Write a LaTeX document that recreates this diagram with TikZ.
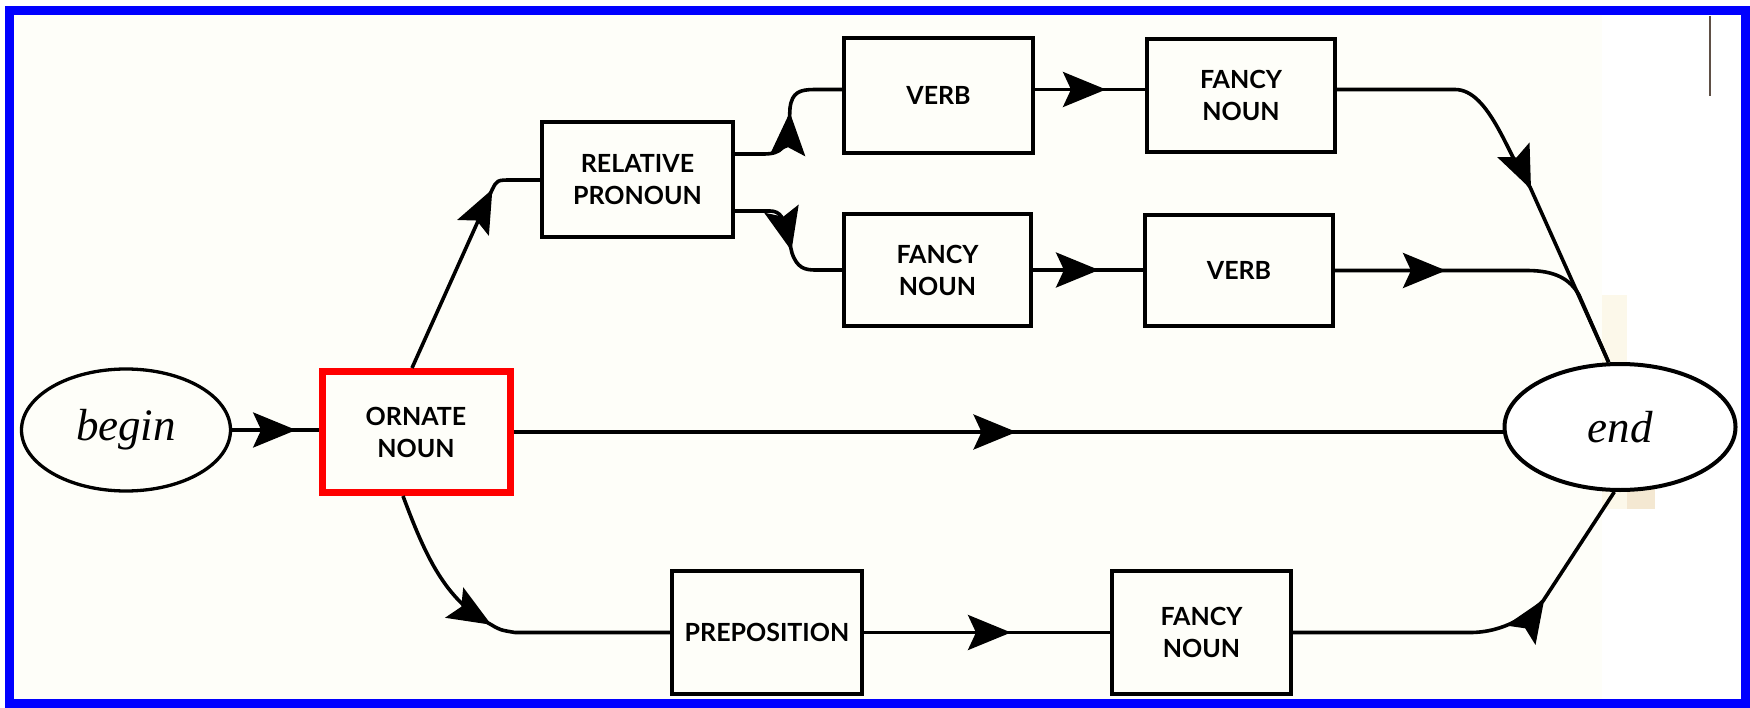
\documentclass[tikz,border=0pt]{standalone}
\usepackage{fontspec}
\setmainfont{Liberation Serif}
\newfontfamily\boxfont{Lato}
\usetikzlibrary{arrows.meta,decorations.markings,shapes.geometric}
\definecolor{frameblue}{RGB}{0,0,255}
\definecolor{hlred}{RGB}{255,0,0}
\definecolor{paper}{RGB}{254,254,249}
\definecolor{paperdark}{RGB}{252,248,234}
\definecolor{stain}{RGB}{244,232,210}
\definecolor{scratch}{RGB}{95,80,70}
\begin{document}
\begin{tikzpicture}[x=1pt,y=-1pt,
  box/.style={draw, line width=4pt, inner sep=0pt, align=center,
    font=\boxfont\bfseries\fontsize{25pt}{32pt}\selectfont},
  hlbox/.style={box, draw=hlred, line width=7pt},
  term/.style={ellipse, draw, inner sep=0pt,
    font=\fontsize{45pt}{50pt}\selectfont\itshape},
  conn/.style={line width=3.6pt, line join=round},
  arr/.style={postaction={decorate, decoration={markings,
    mark=at position #1 with {\arrow{Stealth[length=43pt,width=35pt,inset=8pt]}}}}},
]
\useasboundingbox (0,0) rectangle (1750,708);
\fill[white] (0,0) rectangle (1750,708);
\fill[paper] (12,14) rectangle (1602,700);
\fill[paperdark] (1602,295) rectangle (1627,509);
\fill[stain] (1627,400) rectangle (1655,509);
\draw[scratch, line width=1.2pt] (1710,16) -- (1710,96);

\node[term, minimum width=209pt, minimum height=122pt, line width=3.3pt] (begin) at (126,430) {begin};
\node[hlbox, minimum width=188pt, minimum height=121pt] (orn) at (416,432) {ORNATE\\NOUN};
\node[box, minimum width=191pt, minimum height=115pt] (rel) at (637.5,180) {RELATIVE\\PRONOUN};
\node[box, minimum width=189pt, minimum height=115pt] (verb1) at (938.5,95.5) {VERB};
\node[box, minimum width=188pt, minimum height=113pt] (fancy1) at (1241,95.5) {FANCY\\NOUN};
\node[box, minimum width=187pt, minimum height=112pt] (fancy2) at (937.5,270) {FANCY\\NOUN};
\node[box, minimum width=188pt, minimum height=111pt] (verb2) at (1239,270.5) {VERB};
\node[box, minimum width=190pt, minimum height=123pt] (prep) at (767,632.5) {PREPOSITION};
\node[box, minimum width=179pt, minimum height=123pt] (fancy3) at (1201.5,632.5) {FANCY\\NOUN};
\node[term, fill=white, minimum width=231pt, minimum height=126pt, line width=4pt] (end) at (1620,427) {end};

\draw[conn, arr=64pt] (begin.east) -- (begin.east -| orn.west);
\draw[conn, arr=196pt] ([xshift=-4pt]orn.north) -- (492,190) .. controls (497,180) .. (512,180) -- (rel.west);
\draw[conn, arr=86pt] ([yshift=26pt]rel.east) -- (764,154) .. controls (782,154) and (787,146) .. (789,128) -- (790,108) .. controls (792,92) and (800,89.5) .. (815,89.5) -- ([yshift=6pt]verb1.west);
\draw[conn, arr=84pt] ([yshift=-31pt]rel.east) -- (770,211) .. controls (780,211) and (784,218) .. (787,232) -- (792,253) .. controls (797,268) and (805,270) .. (815,270) -- (fancy2.west);
\draw[conn, arr=71pt] ([yshift=6pt]verb1.east) -- ([yshift=6pt]fancy1.west);
\draw[conn, arr=66pt] (fancy2.east) -- (fancy2.east -| verb2.west);
\draw[conn, arr=248pt] ([yshift=6pt]fancy1.east) -- (1455,89.5) .. controls (1490,89.5) and (1509,159) .. (1530,187) -- (end.100);
\draw[conn, arr=111pt] (verb2.east) -- (1527,270.5) .. controls (1555,270.5) and (1570,279) .. (1579,295) -- (end.100);
\draw[conn, arr=503pt] (orn.east) -- (orn.east -| end.west);
\draw[conn, arr=160pt] ([xshift=-13pt]orn.south) .. controls (425,555) and (445,600) .. (490,624) .. controls (500,630) .. (515,632.5) -- (prep.west);
\draw[conn, arr=147pt] (prep.east) -- (fancy3.west);
\draw[conn, arr=261pt] (fancy3.east) -- (1470,632.5) .. controls (1505,632.5) and (1530,614) .. (1543,601) -- (end.265);

\draw[frameblue, line width=9pt] (9,10.5) rectangle (1745,703.5);
\end{tikzpicture}
\end{document}
